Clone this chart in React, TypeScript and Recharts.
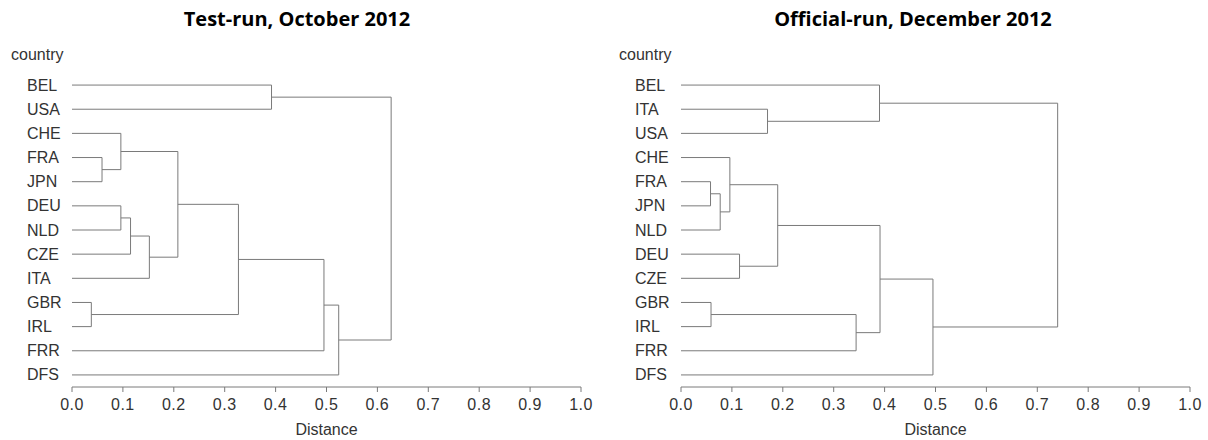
import React from "react";
import { ScatterChart, Scatter, XAxis, YAxis } from "recharts";

// leaf order top to bottom
const testLeaves = ["BEL", "USA", "CHE", "FRA", "JPN", "DEU", "NLD", "CZE", "ITA", "GBR", "IRL", "FRR", "DFS"];
const officialLeaves = ["BEL", "ITA", "USA", "CHE", "FRA", "JPN", "NLD", "DEU", "CZE", "GBR", "IRL", "FRR", "DFS"];

// merges: [left, right, height]; "#n" is the n-th merge (1-based)
const testMerges: [string, string, number][] = [
  ["FRA", "JPN", 0.059],
  ["CHE", "#1", 0.096],
  ["DEU", "NLD", 0.096],
  ["#3", "CZE", 0.115],
  ["#4", "ITA", 0.152],
  ["#2", "#5", 0.208],
  ["GBR", "IRL", 0.038],
  ["#6", "#7", 0.327],
  ["#8", "FRR", 0.495],
  ["#9", "DFS", 0.524],
  ["BEL", "USA", 0.392],
  ["#11", "#10", 0.627],
];

const officialMerges: [string, string, number][] = [
  ["FRA", "JPN", 0.058],
  ["#1", "NLD", 0.077],
  ["CHE", "#2", 0.096],
  ["DEU", "CZE", 0.115],
  ["#3", "#4", 0.19],
  ["GBR", "IRL", 0.059],
  ["#6", "FRR", 0.344],
  ["#5", "#7", 0.391],
  ["#8", "DFS", 0.495],
  ["ITA", "USA", 0.17],
  ["BEL", "#10", 0.39],
  ["#11", "#9", 0.74],
];

const distanceTicks = [0, 0.1, 0.2, 0.3, 0.4, 0.5, 0.6, 0.7, 0.8, 0.9, 1.0];

const LINE = "#7a7a7a";
const TEXT = "#333";
const FONT = "'Liberation Sans', Arial, sans-serif";
const FS = 16;

type Pt = { x: number; y: number };

// turn merges into U-shaped paths
function buildPaths(leaves: string[], merges: [string, string, number][]) {
  const nodes: Record<string, Pt> = {};
  leaves.forEach((name, i) => (nodes[name] = { x: 0, y: i }));
  return merges.map(([a, b, h], i) => {
    const pa = nodes[a];
    const pb = nodes[b];
    nodes["#" + (i + 1)] = { x: h, y: (pa.y + pb.y) / 2 };
    return [
      { x: pa.x, y: pa.y },
      { x: h, y: pa.y },
      { x: h, y: pb.y },
      { x: pb.x, y: pb.y },
    ];
  });
}

function Dendro({
  leaves,
  merges,
  axisW,
  rightM,
  labelX,
}: {
  leaves: string[];
  merges: [string, string, number][];
  axisW: number;
  rightM: number;
  labelX: number;
}) {
  const paths = buildPaths(leaves, merges);
  const rows = leaves.map((_, i) => i);
  const LeafTick = (props: any) => (
    <text x={labelX} y={props.y} dy={5.5} textAnchor="start" fill={TEXT} fontSize={FS} fontFamily={FONT}>
      {leaves[props.payload.value]}
    </text>
  );
  return (
    <ScatterChart width={604} height={440} margin={{ top: 73, right: rightM, bottom: 5, left: 0 }}>
      <XAxis
        type="number"
        dataKey="x"
        domain={[0, 1]}
        ticks={distanceTicks}
        tickFormatter={(v: number) => v.toFixed(1)}
        tickSize={5}
        tickMargin={7}
        height={48}
        stroke={LINE}
        tick={{ fill: TEXT, fontSize: FS, fontFamily: FONT, letterSpacing: 0.5 }}
        label={{ value: "Distance", position: "insideBottom", offset: 0, fill: TEXT, fontSize: FS, fontFamily: FONT }}
      />
      <YAxis
        type="number"
        dataKey="y"
        domain={[-0.5, 12.5]}
        reversed
        ticks={rows}
        width={axisW}
        axisLine={false}
        tickLine={false}
        tick={<LeafTick />}
      />
      {paths.map((d, i) => (
        <Scatter
          key={i}
          data={d}
          line={{ stroke: LINE, strokeWidth: 1 }}
          shape={() => <g />}
          isAnimationActive={false}
        />
      ))}
    </ScatterChart>
  );
}

const titleStyle: React.CSSProperties = {
  position: "absolute",
  top: 5,
  fontFamily: "'Open Sans', sans-serif",
  fontWeight: 700,
  fontSize: 20,
  lineHeight: "28px",
  color: "#000",
  whiteSpace: "nowrap",
  transform: "translateX(-50%)",
};

const countryStyle: React.CSSProperties = {
  position: "absolute",
  top: 46,
  fontFamily: FONT,
  fontSize: FS,
  color: TEXT,
};

export default function App() {
  return (
    <div style={{ position: "absolute", left: 0, top: 0, width: 1208, height: 440, background: "#fff" }}>
      <div style={{ position: "absolute", left: 0, top: 0 }}>
        <Dendro leaves={testLeaves} merges={testMerges} axisW={72} rightM={23} labelX={27} />
      </div>
      <div style={{ position: "absolute", left: 604, top: 0 }}>
        <Dendro leaves={officialLeaves} merges={officialMerges} axisW={77} rightM={18} labelX={31} />
      </div>
      <div style={{ ...titleStyle, left: 297 }}>Test-run, October 2012</div>
      <div style={{ ...titleStyle, left: 913 }}>Official-run, December 2012</div>
      <div style={{ ...countryStyle, left: 11 }}>country</div>
      <div style={{ ...countryStyle, left: 619 }}>country</div>
    </div>
  );
}
